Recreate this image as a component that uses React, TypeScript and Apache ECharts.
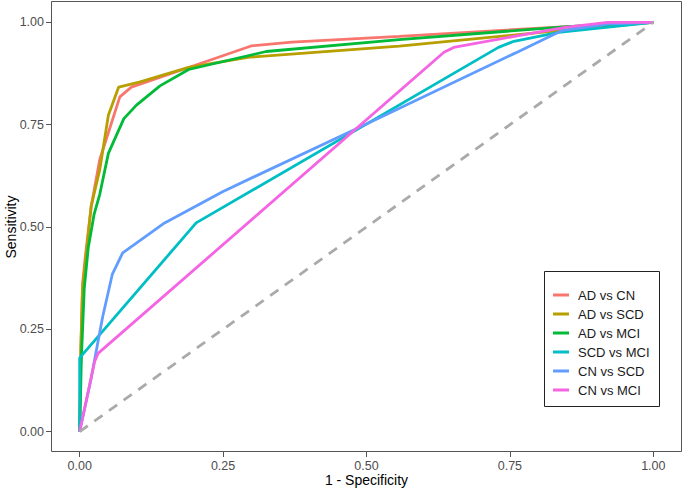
import React, { useEffect, useRef } from "react";
import * as echarts from "echarts";

const seriesNames = ["AD vs CN", "AD vs SCD", "AD vs MCI", "SCD vs MCI", "CN vs SCD", "CN vs MCI"];
const seriesColors = ["#F8766D", "#B79F00", "#00BA38", "#00BFC4", "#619CFF", "#F564E3"];

const adVsCn: [number, number][] = [
  [0, 0], [0.002, 0.2], [0.005, 0.36], [0.01, 0.43], [0.02, 0.55], [0.035, 0.665],
  [0.07, 0.818], [0.09, 0.842], [0.19, 0.89], [0.3, 0.943], [0.37, 0.952],
  [0.557, 0.966], [0.85, 0.99], [1, 1],
];
const adVsScd: [number, number][] = [
  [0, 0], [0.002, 0.2], [0.005, 0.35], [0.02, 0.55], [0.035, 0.64], [0.05, 0.773],
  [0.068, 0.842], [0.104, 0.854], [0.19, 0.89], [0.296, 0.915], [0.557, 0.942],
  [0.835, 0.98], [1, 1],
];
const adVsMci: [number, number][] = [
  [0, 0], [0.003, 0.18], [0.008, 0.35], [0.015, 0.45], [0.025, 0.53], [0.035, 0.58],
  [0.05, 0.68], [0.077, 0.765], [0.099, 0.798], [0.14, 0.845], [0.19, 0.885],
  [0.325, 0.929], [0.557, 0.958], [0.85, 0.99], [1, 1],
];
const scdVsMci: [number, number][] = [
  [0, 0], [0, 0.18], [0.203, 0.51], [0.73, 0.939], [0.757, 0.954], [0.835, 0.976], [1, 1],
];
const cnVsScd: [number, number][] = [
  [0, 0], [0.02, 0.13], [0.04, 0.28], [0.057, 0.385], [0.075, 0.437], [0.148, 0.51],
  [0.25, 0.587], [0.5, 0.752], [0.759, 0.925], [0.84, 0.98], [0.92, 0.996], [1, 1],
];
const cnVsMci: [number, number][] = [
  [0, 0], [0.026, 0.171], [0.032, 0.191], [0.635, 0.927], [0.652, 0.939],
  [0.765, 0.968], [0.846, 0.988], [0.92, 1], [1, 1],
];
const diagonal: [number, number][] = [[0, 0], [1, 1]];

const tickValues = [0, 0.25, 0.5, 0.75, 1];
const allSeries = [adVsCn, adVsScd, adVsMci, scdVsMci, cnVsScd, cnVsMci];

export default function App() {
  const ref = useRef<HTMLDivElement>(null);
  useEffect(() => {
    if (!ref.current) return;
    const chart = echarts.init(ref.current, undefined, { renderer: "svg" });
    const font = "Liberation Sans, Arial, sans-serif";
    const axisCommon = (name: string, isY: boolean) => ({
      type: "value" as const,
      min: -0.05,
      max: 1.05,
      name,
      nameLocation: "middle" as const,
      nameGap: isY ? 33 : 21,
      nameRotate: isY ? 90 : 0,
      nameMoveOverlap: false,
      nameTextStyle: { fontSize: 14, color: "#000", fontFamily: font },
      axisLine: { show: false, onZero: false },
      splitLine: { show: false },
      axisTick: {
        show: true,
        length: 5,
        lineStyle: { color: "#555", width: 1 },
        customValues: tickValues,
      },
      axisLabel: {
        show: true,
        margin: 7,
        fontSize: 12.5,
        color: "#4d4d4d",
        fontFamily: font,
        customValues: tickValues,
        formatter: (v: number) => v.toFixed(2),
      },
    });
    chart.setOption({
      animation: false,
      backgroundColor: "#fff",
      textStyle: { fontFamily: font },
      grid: {
        left: 51,
        top: 2,
        right: 3,
        bottom: 38,
        containLabel: false,
        outerBoundsMode: "none",
        show: false,
      },
      xAxis: axisCommon("1 - Specificity", false),
      yAxis: axisCommon("Sensitivity", true),
      legend: {
        left: 553,
        top: 287,
        orient: "vertical",
        itemWidth: 16,
        itemHeight: 3,
        itemGap: 3,
        icon: "rect",
        padding: 0,
        data: seriesNames,
        textStyle: { fontSize: 13, color: "#1a1a1a", fontFamily: font, lineHeight: 16, padding: [0, 0, 0, 4] },
      },
      graphic: [
        {
          type: "rect",
          shape: { x: 51.5, y: 1.5, width: 630, height: 450 },
          style: { fill: "none", stroke: "#555", lineWidth: 1 },
          z: 100,
          silent: true,
        },
        {
          type: "rect",
          shape: { x: 544.5, y: 271.5, width: 115, height: 135 },
          style: { fill: "none", stroke: "#222", lineWidth: 1 },
          z: 100,
          silent: true,
        },
      ],
      series: [
        ...allSeries.map((d, i) => ({
          name: seriesNames[i],
          type: "line" as const,
          data: d,
          showSymbol: false,
          symbol: "none",
          color: seriesColors[i],
          lineStyle: { color: seriesColors[i], width: 2.8 },
          z: 2 + i,
        })),
        {
          name: "diag",
          type: "line" as const,
          data: diagonal,
          showSymbol: false,
          symbol: "none",
          lineStyle: { color: "#aaaaaa", width: 2.8, type: [10, 8] },
          z: 10,
        },
      ],
    });
    return () => chart.dispose();
  }, []);
  return <div ref={ref} style={{ width: 685, height: 490, position: "absolute", left: 0, top: 0 }} />;
}
